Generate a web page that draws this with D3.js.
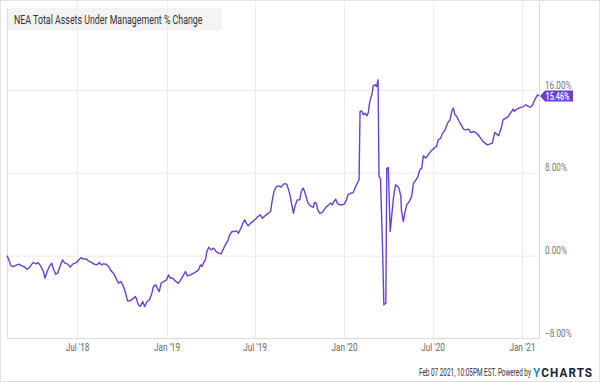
<!DOCTYPE html>
<html><head><meta charset="utf-8">
<script src="https://cdn.jsdelivr.net/npm/d3@7"></script>
<style>
html,body{margin:0;padding:0;background:#fff;}
svg{display:block;font-family:Roboto,"Noto Sans",sans-serif;}
</style></head>
<body>
<svg id="chart" width="600" height="382"></svg>
<script>
const title = "NEA Total Assets Under Management % Change";
const dates = ["2018-02-07","2018-02-11","2018-02-15","2018-02-20","2018-02-27","2018-03-04","2018-03-09","2018-03-14","2018-03-20","2018-03-25","2018-03-30","2018-04-02","2018-04-08","2018-04-12","2018-04-17","2018-04-23","2018-04-26","2018-04-30","2018-05-05","2018-05-10","2018-05-13","2018-05-18","2018-05-22","2018-05-27","2018-06-01","2018-06-06","2018-06-12","2018-06-17","2018-06-22","2018-06-27","2018-07-02","2018-07-06","2018-07-09","2018-07-14","2018-07-20","2018-07-24","2018-07-30","2018-08-05","2018-08-11","2018-08-16","2018-08-20","2018-08-24","2018-08-30","2018-09-04","2018-09-09","2018-09-14","2018-09-20","2018-09-24","2018-09-29","2018-10-03","2018-10-08","2018-10-13","2018-10-18","2018-10-23","2018-10-29","2018-11-01","2018-11-04","2018-11-08","2018-11-13","2018-11-17","2018-11-22","2018-11-27","2018-12-02","2018-12-05","2018-12-10","2018-12-14","2018-12-17","2018-12-21","2018-12-26","2019-01-01","2019-01-05","2019-01-09","2019-01-14","2019-01-19","2019-01-25","2019-01-29","2019-02-03","2019-02-09","2019-02-13","2019-02-19","2019-02-26","2019-03-03","2019-03-08","2019-03-12","2019-03-15","2019-03-18","2019-03-22","2019-03-25","2019-03-29","2019-04-03","2019-04-08","2019-04-13","2019-04-18","2019-04-23","2019-04-27","2019-05-02","2019-05-07","2019-05-11","2019-05-16","2019-05-21","2019-05-25","2019-05-29","2019-06-03","2019-06-07","2019-06-11","2019-06-14","2019-06-18","2019-06-23","2019-06-27","2019-07-03","2019-07-08","2019-07-13","2019-07-17","2019-07-21","2019-07-27","2019-08-03","2019-08-06","2019-08-10","2019-08-15","2019-08-20","2019-08-25","2019-08-30","2019-09-05","2019-09-07","2019-09-12","2019-09-15","2019-09-19","2019-09-22","2019-09-27","2019-10-02","2019-10-05","2019-10-09","2019-10-12","2019-10-16","2019-10-19","2019-10-24","2019-10-30","2019-11-01","2019-11-05","2019-11-08","2019-11-12","2019-11-17","2019-11-22","2019-11-26","2019-12-01","2019-12-04","2019-12-08","2019-12-11","2019-12-15","2019-12-18","2019-12-23","2019-12-28","2020-01-02","2020-01-06","2020-01-09","2020-01-15","2020-01-20","2020-01-25","2020-01-30","2020-02-01","2020-02-03","2020-02-06","2020-02-10","2020-02-13","2020-02-17","2020-02-20","2020-02-23","2020-02-28","2020-03-01","2020-03-05","2020-03-08","2020-03-11","2020-03-13","2020-03-16","2020-03-20","2020-03-23","2020-03-27","2020-03-29","2020-04-01","2020-04-05","2020-04-08","2020-04-12","2020-04-16","2020-04-21","2020-04-23","2020-04-27","2020-04-28","2020-05-02","2020-05-05","2020-05-09","2020-05-14","2020-05-19","2020-05-23","2020-05-28","2020-06-01","2020-06-05","2020-06-09","2020-06-12","2020-06-17","2020-06-22","2020-06-27","2020-07-04","2020-07-09","2020-07-13","2020-07-18","2020-07-21","2020-07-27","2020-08-01","2020-08-06","2020-08-10","2020-08-13","2020-08-16","2020-08-20","2020-08-25","2020-08-30","2020-09-03","2020-09-07","2020-09-13","2020-09-18","2020-09-23","2020-09-28","2020-10-04","2020-10-08","2020-10-13","2020-10-17","2020-10-22","2020-10-28","2020-11-01","2020-11-06","2020-11-10","2020-11-14","2020-11-17","2020-11-21","2020-11-23","2020-11-29","2020-12-04","2020-12-09","2020-12-14","2020-12-16","2020-12-21","2020-12-28","2021-01-04","2021-01-09","2021-01-15","2021-01-19","2021-01-23","2021-01-28","2021-02-02","2021-02-05"];
const values = [0.05,-0.36,-0.94,-1.0,-0.84,-0.77,-0.94,-1.0,-1.26,-1.10,-0.77,-0.62,-0.74,-0.62,-0.94,-1.49,-2.13,-1.58,-1.0,-0.68,-1.16,-1.74,-1.64,-1.0,-0.36,-0.68,-0.77,-1.06,-0.77,-0.68,-0.52,-0.29,-0.14,-0.29,-0.26,-0.45,-0.58,-0.77,-0.84,-0.62,-0.84,-0.74,-0.77,-1.0,-1.42,-1.64,-2.22,-2.61,-2.45,-2.77,-3.42,-4.32,-4.32,-4.15,-3.90,-4.22,-4.70,-4.87,-4.38,-4.87,-4.38,-4.22,-3.57,-2.94,-2.77,-3.19,-3.42,-2.61,-2.45,-2.29,-1.81,-2.13,-2.13,-2.39,-2.61,-2.39,-1.97,-1.49,-1.90,-1.81,-1.64,-1.49,-1.32,-0.84,-1.0,-0.68,-0.36,0.44,0.87,0.61,0.77,0.44,0.29,0.22,0.61,1.09,1.48,2.06,2.38,2.38,2.44,2.22,2.70,3.19,3.51,3.19,2.93,3.19,3.34,3.57,3.83,3.99,3.67,3.83,4.06,4.31,5.27,6.24,6.72,6.79,6.67,6.98,6.98,6.72,5.92,5.12,4.15,4.79,5.44,5.44,6.24,6.57,6.24,5.60,5.12,4.86,4.70,5.18,5.12,4.47,4.15,4.21,4.54,4.79,4.96,5.12,4.96,5.27,5.51,5.12,4.96,4.96,5.05,5.44,5.92,6.09,6.14,6.72,7.21,7.37,13.97,14.04,13.65,13.81,13.55,13.87,14.93,15.75,16.45,16.55,16.38,17.03,7.69,7.53,1.26,-4.70,-4.54,8.50,8.56,2.38,3.83,5.76,6.89,6.72,6.57,5.76,4.47,3.34,4.15,4.96,5.27,5.76,7.05,7.37,7.69,8.34,8.50,9.69,9.47,9.79,10.10,10.43,10.59,11.24,11.40,11.81,12.20,12.85,13.17,14.07,14.30,13.65,13.49,13.00,12.59,12.27,12.20,12.27,11.94,12.04,11.94,11.65,11.40,11.07,10.92,10.75,10.85,10.92,11.94,11.79,11.62,12.04,12.68,13.17,13.33,13.49,13.87,14.20,13.97,14.20,14.35,14.45,14.62,14.45,14.39,14.62,15.17,15.58,15.46];
const yTicks = [-8, 0, 8, 16];
const xTickDates = ["2018-07-01","2019-01-01","2019-07-01","2020-01-01","2020-07-01","2021-01-01"];
const xTickLabels = ["Jul '18","Jan '19","Jul '19","Jan '20","Jul '20","Jan '21"];
const lastLabel = "15.46%";
const footerText = "Feb 07 2021, 10:05PM EST.  Powered by";

const parse = d3.timeParse("%Y-%m-%d");
const data = dates.map((d,i)=>({date:parse(d), value:values[i]}));

const svg = d3.select("#chart");
const L = 7, R = 539, T = 2, B = 338;
const x = d3.scaleTime().domain([parse("2018-02-07"), parse("2021-02-05")]).range([L, R]);
const y = d3.scaleLinear().domain([-8, 16]).range([339, 90.5]);

const purple = "#6a3fd3";
function fitText(g, tx, ty, width) {
  const t = g.select("text").node();
  const w = t.getBBox().width;
  g.attr("transform", `translate(${tx},${ty}) scale(${width / w},1)`);
}

// outer border
svg.append("rect").attr("x",0.5).attr("y",0.5).attr("width",599).attr("height",381)
  .attr("fill","#fff").attr("stroke","#e3e3e3");

// title box
svg.append("rect").attr("x",L).attr("y",8).attr("width",215).attr("height",23).attr("fill","#f4f4f4");

// grid lines
const grid = svg.append("g");
grid.selectAll("line.h").data(yTicks.filter(t=>t>-8)).join("line")
  .attr("x1",L).attr("x2",R).attr("y1",d=>y(d)).attr("y2",d=>y(d))
  .attr("stroke","#ebebeb").attr("stroke-width",1);
grid.selectAll("line.v").data(xTickDates.map(parse)).join("line")
  .attr("x1",d=>Math.round(x(d))+0.5).attr("x2",d=>Math.round(x(d))+0.5).attr("y1",T).attr("y2",B)
  .attr("stroke","#ebebeb").attr("stroke-width",1);

// plot border (left, bottom, right)
svg.append("path").attr("d",`M${L+0.5},${8}V${B+0.5}H${R+0.5}V${T}`)
  .attr("fill","none").attr("stroke","#dcdcdc");

// title text
const gt = svg.append("g");
gt.append("text").attr("font-size",12.5).attr("fill","#333").text(title);
fitText(gt, 14, 24, 189);

// x axis
const xAxis = d3.axisBottom(x).tickValues(xTickDates.map(parse)).tickFormat((d,i)=>xTickLabels[i]).tickSize(0).tickPadding(0);
const gx = svg.append("g").attr("transform",`translate(0,${B})`).call(xAxis);
gx.select(".domain").remove();
gx.selectAll("text").attr("y",13).attr("dy",0).attr("font-size",10.5).attr("fill","#666").attr("font-family","Roboto")
  .attr("transform","scale(0.78,1)");

// y axis (right)
const yAxis = d3.axisRight(y).tickValues(yTicks).tickFormat(d=>d3.format(".2f")(d)+"%").tickSize(0).tickPadding(0);
const gy = svg.append("g").attr("transform",`translate(${R+6},0)`).call(yAxis);
gy.select(".domain").remove();
gy.selectAll("text").attr("dy","-0.25em").attr("font-size",10).attr("fill","#777").attr("font-family","Roboto")
  .attr("transform","scale(0.82,1)");

// line
const line = d3.line().x(d=>x(d.date)).y(d=>y(d.value));
svg.append("path").datum(data).attr("d",line).attr("fill","none").attr("stroke",purple)
  .attr("stroke-width",1.4).attr("stroke-linejoin","round");

// last value badge
const last = data[data.length-1];
const ly = y(last.value), lx = x(last.date);
svg.append("path").attr("d",`M${lx+1},${ly}L${lx+6},${ly-5.5}H${lx+34}V${ly+5.5}H${lx+6}Z`).attr("fill",purple);
const gb = svg.append("g");
gb.append("text").attr("font-size",10).attr("font-weight",500).attr("fill","#fff").text(lastLabel);
fitText(gb, lx+6.5, ly+3.6, 24);

// footer
const gf = svg.append("g");
gf.append("text").attr("font-size",10.5).attr("fill","#333").text(footerText);
fitText(gf, 419, 376, 112);
const gl = svg.append("g");
const logo = gl.append("text").attr("font-size",13).attr("font-weight",700).attr("letter-spacing",1.2);
logo.append("tspan").attr("fill","#1b8fd8").text("Y");
logo.append("tspan").attr("fill","#1a2233").text("CHARTS");
fitText(gl, 533, 376.5, 60);
</script>
</body></html>
